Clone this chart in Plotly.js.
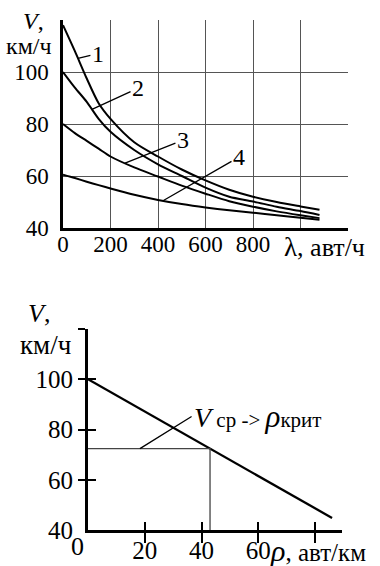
<!DOCTYPE html>
<html><head><meta charset="utf-8">
<script src="https://cdn.plot.ly/plotly-3.0.1.min.js"></script>
<style>
html,body{margin:0;padding:0;background:#fff;font-family:"Liberation Serif",serif}
#chart{width:380px;height:566px}
</style>
</head><body>
<div id="chart"></div>
<script>
// ---------- top chart: V(lambda) ----------
const lambda = [0,50,100,150,200,300,400,500,600,700,800,900,1000,1080];
const v1 = [118,108,97.5,88,82,73,67.5,62.5,58.3,54.7,52,50,48.3,47];
const v2 = [100,94,88.5,82,77,70,64.5,60,55.5,52,50.2,48.2,46.5,45];
const v3 = [80,76.5,73.5,70.5,67.5,63.3,59.8,56.3,53.2,50.3,48.2,46.4,44.9,43.8];
const v4 = [60.5,59.2,57.8,56.5,55.2,52.8,50.8,49.2,47.9,46.8,45.9,44.9,43.9,43.2];
const curveNames = ['1','2','3','4'];
const xTickVals = [0,200,400,600,800,1000,1200];
const xTickText = ['0','200','400','600','800','',''];
const yTickVals = [40,60,80,100,120];
const yTickText = ['40','60','80','100',''];
const labelAtLambda = [63,122,261,421];
const labelTextLambda = [147,316,505,741];
const labelTextV = [107.1,93.8,73.8,67.3];

// ---------- bottom chart: V(rho) ----------
const rho = [0,86];
const vRho = [100,44.8];
const rhoCrit = 43;
const xTickVals2 = [20,40,60,80];
const xTickText2 = ['20','40','60',''];
const yTickVals2 = [40,60,80,100,120];
const yTickText2 = ['40','60','80','100',''];
const originLabel = '0';
const leaderRho = 18.3;

function interp(xs, ys, x){
  for(let i=0;i<xs.length-1;i++){
    if(x>=xs[i] && x<=xs[i+1]){
      const t=(x-xs[i])/(xs[i+1]-xs[i]);
      return ys[i]+t*(ys[i+1]-ys[i]);
    }
  }
  return ys[ys.length-1];
}
const vCrit = interp(rho, vRho, rhoCrit);

const W=380,H=566;
const pxX = x=>x/W, pxY = y=>1-y/H;
const SERIF = 'Liberation Serif';
function fnt(size){ return {family:SERIF, size:size, color:'#000'}; }

const curves=[v1,v2,v3,v4];
const traces = curves.map((v,i)=>({
  x: lambda, y: v, xaxis:'x', yaxis:'y', mode:'lines', name: curveNames[i],
  line:{color:'#000', width:2, shape:'spline', smoothing:0.8}, hoverinfo:'skip'
}));
traces.push({x: rho, y: vRho, xaxis:'x2', yaxis:'y2', mode:'lines',
  line:{color:'#000', width:2.3}, hoverinfo:'skip'});
traces.push({x:[0, rhoCrit, rhoCrit], y:[vCrit, vCrit, 40], xaxis:'x2', yaxis:'y2', mode:'lines',
  line:{color:'#444', width:1.3}, hoverinfo:'skip'});
traces.push({x: rho, y: vRho, xaxis:'x3', yaxis:'y3', mode:'lines', opacity:0,
  line:{color:'#000', width:0}, hoverinfo:'skip'});

const ann = [];
ann.push({xref:'paper',yref:'paper',x:pxX(21),y:pxY(21),xanchor:'left',yanchor:'middle',
  text:'<i>V</i>,',showarrow:false,font:fnt(24)});
ann.push({xref:'paper',yref:'paper',x:pxX(29),y:pxY(46),xanchor:'center',yanchor:'middle',
  text:'км/ч',showarrow:false,font:fnt(24)});
ann.push({xref:'paper',yref:'paper',x:pxX(282),y:pxY(247),xanchor:'left',yanchor:'middle',
  text:'<span style="font-size:27px">λ</span>, авт/ч',showarrow:false,font:fnt(26)});
curves.forEach((v,i)=>{
  ann.push({xref:'x',yref:'y',axref:'x',ayref:'y',
    x: labelAtLambda[i], y: interp(lambda, v, labelAtLambda[i]),
    ax: labelTextLambda[i], ay: labelTextV[i],
    text: curveNames[i], showarrow:true, arrowhead:0, arrowwidth:1.3, arrowcolor:'#000',
    font:fnt(24)});
});
ann.push({xref:'paper',yref:'paper',x:pxX(26),y:pxY(314),xanchor:'left',yanchor:'middle',
  text:'<i>V</i>,',showarrow:false,font:fnt(26)});
ann.push({xref:'paper',yref:'paper',x:pxX(45),y:pxY(345),xanchor:'center',yanchor:'middle',
  text:'км/ч',showarrow:false,font:fnt(27)});
ann.push({xref:'paper',yref:'paper',x:pxX(77),y:pxY(546),xanchor:'center',yanchor:'middle',
  text:originLabel,showarrow:false,font:fnt(26)});
ann.push({xref:'paper',yref:'paper',x:pxX(268),y:pxY(550),xanchor:'left',yanchor:'middle',
  text:'<i><span style="font-size:30px">ρ</span></i>, авт/км',showarrow:false,font:fnt(25)});
ann.push({xref:'x2',yref:'y2',axref:'x2',ayref:'y2',
  x: leaderRho, y: vCrit, ax: 36.5, ay: 85.2, xanchor:'left', yanchor:'middle',
  text:'<i>V</i><span style="font-size:21px"> ср -> </span><i><span style="font-size:31px">ρ</span></i><span style="font-size:21px">крит</span>',
  showarrow:true, arrowhead:0, arrowwidth:1.3, arrowcolor:'#000',
  font:fnt(28)});

const layout = {
  width:W, height:H, margin:{l:0,r:0,t:0,b:0},
  font:{family:SERIF, color:'#000'},
  paper_bgcolor:'#fff', plot_bgcolor:'rgba(0,0,0,0)', showlegend:false, hovermode:false,
  xaxis:{domain:[pxX(63),pxX(348)], range:[0,1200], anchor:'y',
    tickmode:'array', tickvals:xTickVals, ticktext:xTickText, ticks:'',
    showgrid:true, gridcolor:'#555', gridwidth:1, zeroline:false,
    showline:true, linecolor:'#000', linewidth:2.6, tickfont:fnt(23), ticklabelstandoff:-6},
  yaxis:{domain:[pxY(228),pxY(20)], range:[40,120], anchor:'x',
    tickmode:'array', tickvals:yTickVals, ticktext:yTickText, ticks:'',
    showgrid:true, gridcolor:'#555', gridwidth:1, zeroline:false,
    showline:true, linecolor:'#000', linewidth:2.6, tickfont:fnt(23), ticklabelstandoff:7},
  xaxis2:{domain:[pxX(88),pxX(342)], range:[0,89.5], anchor:'y2',
    tickmode:'array', tickvals:xTickVals2, ticks:'outside', ticklen:10, tickwidth:2, tickcolor:'#000',
    showticklabels:false, showgrid:false, zeroline:false,
    showline:true, linecolor:'#000', linewidth:2.6},
  yaxis2:{domain:[pxY(530),pxY(329)], range:[40,120], anchor:'x2',
    tickmode:'array', tickvals:yTickVals2.slice(1), ticks:'outside', ticklen:7, tickwidth:2, tickcolor:'#000',
    showticklabels:false, showgrid:false, zeroline:false,
    showline:true, linecolor:'#000', linewidth:2.6},
  xaxis3:{overlaying:'x2', anchor:'y2', range:[0,89.5],
    tickmode:'array', tickvals:xTickVals2, ticktext:xTickText2, ticks:'inside', ticklen:8, tickwidth:2, tickcolor:'#000',
    showgrid:false, zeroline:false, showline:false, tickfont:fnt(25), ticklabelstandoff:3},
  yaxis3:{overlaying:'y2', anchor:'x2', range:[40,120],
    tickmode:'array', tickvals:yTickVals2, ticktext:yTickText2, ticks:'inside', ticklen:8, tickwidth:2, tickcolor:'#000',
    showgrid:false, zeroline:false, showline:false, tickfont:fnt(25), ticklabelstandoff:14},
  annotations: ann
};
const cfg = {staticPlot:true};
Plotly.newPlot('chart', traces, layout, cfg);
if (document.fonts && document.fonts.load) {
  Promise.all([
    document.fonts.load('24px "Liberation Serif"'),
    document.fonts.load('italic 24px "Liberation Serif"')
  ]).then(()=>Plotly.react('chart', traces, layout, cfg)).catch(()=>{});
}
</script></body></html>
